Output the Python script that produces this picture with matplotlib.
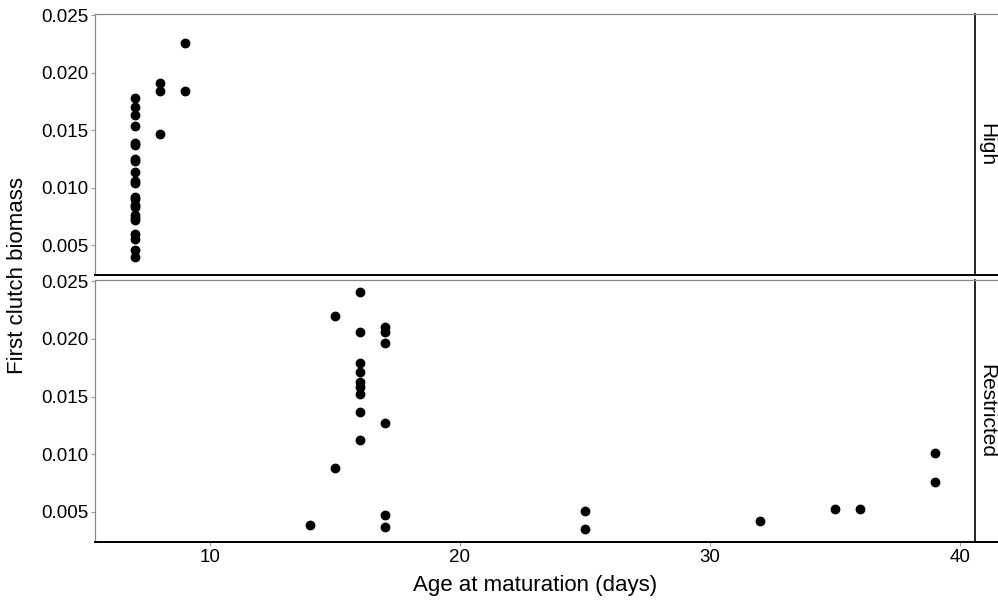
import matplotlib
matplotlib.use("Agg")
import matplotlib.pyplot as plt
from matplotlib.lines import Line2D

plt.rcParams['font.family'] = ['Liberation Sans', 'DejaVu Sans']

# High food treatment
high_age = [7] * 22 + [8, 8, 8, 9, 9]
high_biomass = [0.0178, 0.0170, 0.0163, 0.0154, 0.0139, 0.0137, 0.0125, 0.0123,
                0.0114, 0.0106, 0.0104, 0.0092, 0.0090, 0.0085, 0.0083, 0.0076,
                0.0074, 0.0072, 0.0060, 0.0055, 0.0046, 0.0040,
                0.0191, 0.0184, 0.0147, 0.0226, 0.0184]

# Restricted food treatment
restr_age = [14, 15, 15, 16, 16, 16, 16, 16, 16, 16, 16, 16,
             17, 17, 17, 17, 17, 17, 25, 25, 32, 35, 36, 39, 39]
restr_biomass = [0.0039, 0.0220, 0.0088, 0.0241, 0.0206, 0.0179, 0.0171, 0.0163,
                 0.0158, 0.0152, 0.0137, 0.0112,
                 0.0210, 0.0206, 0.0196, 0.0127, 0.0047, 0.0037,
                 0.0051, 0.0035, 0.0042, 0.0053, 0.0053, 0.0101, 0.0076]

panels = [("High", high_age, high_biomass), ("Restricted", restr_age, restr_biomass)]
yticks = [0.005, 0.010, 0.015, 0.020, 0.025]
xticks = [10, 20, 30, 40]

W, H = 998, 603
fig = plt.figure(figsize=(W / 100, H / 100), dpi=100)

left, right = 95, 975
boxes = [(14, 275), (280, 542)]
axes = []
for (label, xs, ys), (top, bot) in zip(panels, boxes):
    ax = fig.add_axes([left / W, 1 - bot / H, (right - left) / W, (bot - top) / H])
    ax.scatter(xs, ys, s=50, color='black', zorder=3, linewidths=0)
    ax.set_xlim(5.4, 40.6)
    ax.set_ylim(0.0024, 0.0251)
    ax.set_yticks(yticks)
    ax.set_yticklabels([f"{v:.3f}" for v in yticks])
    ax.set_xticks(xticks)
    ax.tick_params(axis='both', labelsize=13.5, colors='#999999', labelcolor='black',
                   length=3, width=0.8, direction='out', pad=2)
    for s in ['top', 'left']:
        ax.spines[s].set_color('#888888')
        ax.spines[s].set_linewidth(0.9)
    ax.spines['bottom'].set_color('black')
    ax.spines['bottom'].set_linewidth(1.4)
    ax.spines['right'].set_color('black')
    ax.spines['right'].set_linewidth(1.2)
    ax.text(987 / W, 1 - ((top + bot) / 2) / H, label, transform=fig.transFigure,
            rotation=-90, ha='center', va='center', fontsize=15)
    # strip borders extending to the right edge
    fig.add_artist(Line2D([right / W, 1], [1 - top / H] * 2, color='#888888', lw=0.9))
    fig.add_artist(Line2D([right / W, 1], [1 - bot / H] * 2, color='black', lw=1.4))
    axes.append(ax)

axes[0].tick_params(axis='x', labelbottom=False, length=0)

fig.text(18 / W, 1 - 275 / H, "First clutch biomass", rotation=90,
         ha='center', va='center', fontsize=16)
fig.text((left + right) / 2 / W, 1 - 586 / H, "Age at maturation (days)",
         ha='center', va='center', fontsize=16)

fig.savefig("out.png", dpi=100)
